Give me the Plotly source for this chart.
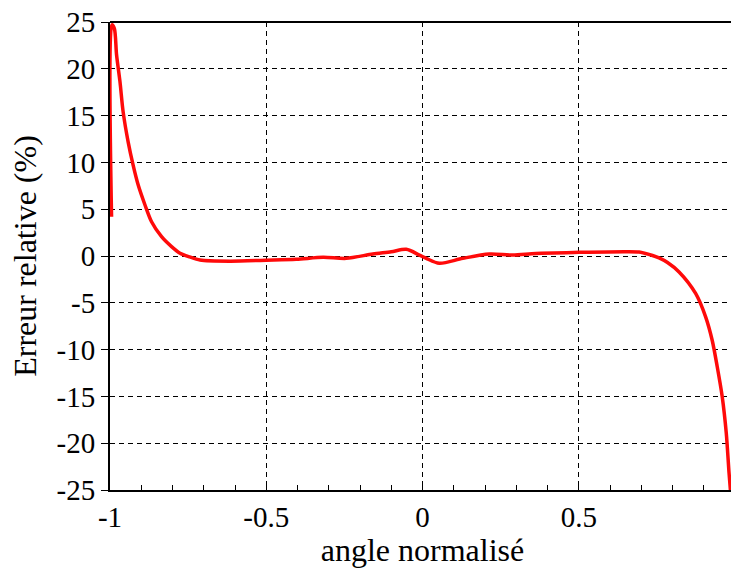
import plotly.graph_objects as go

angle = [-0.995, -0.994, -0.986, -0.979, -0.968, -0.958, -0.942, -0.926, -0.910, -0.888,
         -0.867, -0.835, -0.803, -0.776, -0.745, -0.712, -0.617, -0.5, -0.404, -0.318,
         -0.244, -0.159, -0.1, -0.052, -0.01, 0.012, 0.054, 0.129, 0.214, 0.289,
         0.363, 0.502, 0.651, 0.693, 0.736, 0.757, 0.784, 0.821, 0.874, 0.906,
         0.927, 0.943, 0.959, 0.972, 0.981, 0.99, 1.0]
erreur = [4.2, 24.7, 24.3, 21.5, 18.6, 15.4, 12.2, 9.7, 7.6, 5.45,
          3.66, 2.06, 1.0, 0.3, -0.1, -0.43, -0.55, -0.45, -0.35, -0.14,
          -0.25, 0.21, 0.45, 0.71, 0.1, -0.25, -0.78, -0.25, 0.21, 0.1,
          0.28, 0.39, 0.46, 0.42, 0.05, -0.2, -0.7, -1.7, -4.0, -6.5,
          -9.0, -11.8, -15.0, -18.9, -23.2, -27.0, -32.0]

x_tick_vals = [-1, -0.5, 0, 0.5, 1]
x_tick_text = ["-1", "-0.5", "0", "0.5", "1"]
y_tick_vals = [25, 20, 15, 10, 5, 0, -5, -10, -15, -20, -25]
y_tick_text = ["25", "20", "15", "10", "5", "0", "-5", "-10", "-15", "-20", "-25"]

font_family = "Liberation Serif"

fig = go.Figure()
fig.add_trace(go.Scatter(
    x=angle, y=erreur, mode="lines",
    line=dict(color="#ff0a0a", width=3.5, shape="spline", smoothing=0.8),
    showlegend=False, hoverinfo="skip",
))

fig.update_layout(
    width=740, height=568,
    margin=dict(l=110, r=5, t=22, b=78),
    paper_bgcolor="white", plot_bgcolor="white",
    font=dict(family=font_family, size=29, color="black"),
    xaxis=dict(
        range=[-1, 1],
        tickvals=x_tick_vals, ticktext=x_tick_text,
        ticks="inside", ticklen=5, tickcolor="black", tickwidth=1,
        minor=dict(dtick=0.1, tick0=0, ticks="inside", ticklen=5, tickcolor="black", showgrid=False),
        showgrid=True, gridcolor="black", gridwidth=1, griddash="5px,4px",
        showline=True, linecolor="black", linewidth=2,
        zeroline=False,
        title=dict(text="angle normalisé", font=dict(family=font_family, size=32), standoff=0),
        tickfont=dict(family=font_family, size=29),
    ),
    yaxis=dict(
        range=[-25, 25],
        tickvals=y_tick_vals, ticktext=y_tick_text,
        ticks="outside", ticklen=7, tickcolor="black", tickwidth=1,
        showgrid=True, gridcolor="black", gridwidth=1, griddash="5px,4px",
        showline=True, linecolor="black", linewidth=2,
        zeroline=False,
        title=dict(text="Erreur relative (%)", font=dict(family=font_family, size=32), standoff=10),
        tickfont=dict(family=font_family, size=29),
    ),
    shapes=[dict(type="line", xref="paper", yref="paper", x0=0, x1=1, y0=1, y1=1,
                 line=dict(color="black", width=2))],
)

fig.write_html(
    "out.html",
    config={"displayModeBar": False},
    post_script="document.body.style.margin='0';document.body.style.overflow='hidden';",
)
